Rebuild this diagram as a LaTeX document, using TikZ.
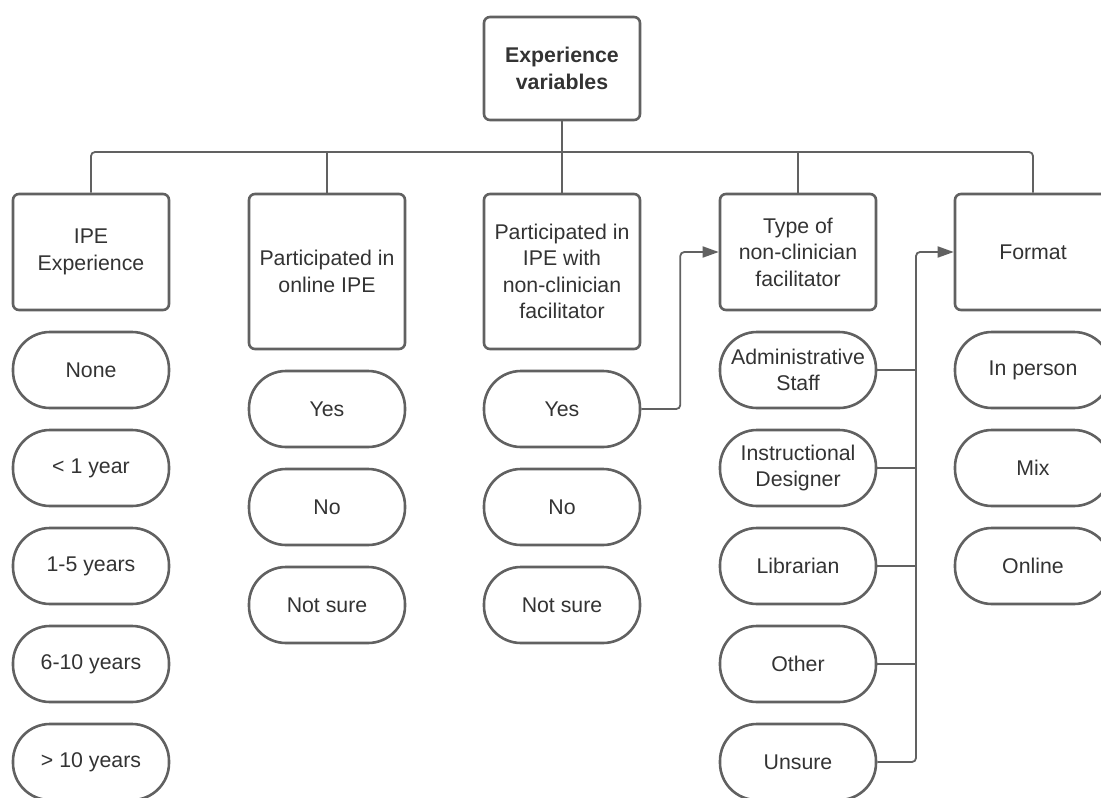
\documentclass[tikz,border=0pt]{standalone}
\usepackage{fontspec}
\setmainfont{Liberation Sans}
\usetikzlibrary{arrows.meta}
\definecolor{edge}{HTML}{616161}
\definecolor{txt}{HTML}{333333}
\begin{document}
\begin{tikzpicture}[x=1pt,y=-1pt,
  base/.style={draw=edge,line width=2.6pt,text=txt,align=center,
    font=\fontsize{21.3}{26.5}\selectfont,minimum width=156,inner sep=0pt},
  hbox/.style={base,rectangle,rounded corners=6},
  pill/.style={base,rectangle,rounded corners=37,minimum height=76},
  conn/.style={draw=edge,line width=1.8pt,rounded corners=4},
  arr/.style={conn,-{Triangle[length=16pt,width=11pt]}}]
\useasboundingbox (0,0) rectangle (1101,798);
\clip (0,0) rectangle (1101,798);
% top
\node[hbox,minimum height=103,font=\fontsize{21.3}{26.5}\selectfont\bfseries] (top) at (562,68.5) {Experience\\variables};
% headers
\node[hbox,minimum height=116] (h1) at (91,252) {IPE\\Experience};
\node[hbox,minimum height=155] (h2) at (327,271.5) {Participated in\\online IPE};
\node[hbox,minimum height=155] (h3) at (562,271.5) {Participated in\\IPE with\\non-clinician\\facilitator};
\node[hbox,minimum height=116] (h4) at (798,252) {Type of\\non-clinician\\facilitator};
\node[hbox,minimum height=116] (h5) at (1033,252) {Format};
% column 1
\node[pill] (c1a) at (91,370) {None};
\node[pill] (c1b) at (91,468) {< 1 year};
\node[pill] (c1c) at (91,566) {1-5 years};
\node[pill] (c1d) at (91,664) {6-10 years};
\node[pill] (c1e) at (91,762) {> 10 years};
% column 2
\node[pill] (c2a) at (327,409) {Yes};
\node[pill] (c2b) at (327,507) {No};
\node[pill] (c2c) at (327,605) {Not sure};
% column 3
\node[pill] (c3a) at (562,409) {Yes};
\node[pill] (c3b) at (562,507) {No};
\node[pill] (c3c) at (562,605) {Not sure};
% column 4
\node[pill] (c4a) at (798,370) {Administrative\\Staff};
\node[pill] (c4b) at (798,468) {Instructional\\Designer};
\node[pill] (c4c) at (798,566) {Librarian};
\node[pill] (c4d) at (798,664) {Other};
\node[pill] (c4e) at (798,762) {Unsure};
% column 5
\node[pill] (c5a) at (1033,370) {In person};
\node[pill] (c5b) at (1033,468) {Mix};
\node[pill] (c5c) at (1033,566) {Online};
% tree connectors
\coordinate (bus) at (562,152);
\draw[conn] (h1.north) |- (bus) -| (h5.north);
\draw[conn] (top.south) -- (h3.north);
\draw[conn] (h2.north) -- (h2.north |- bus);
\draw[conn] (h4.north) -- (h4.north |- bus);
% arrows
\draw[arr] (c3a.east) -- ++(39,0) |- (h4.west);
\coordinate (vx) at (916,0);
\draw[arr] (c4e.east) -| (vx |- h5.west) -- (h5.west);
\draw[conn] (c4a.east) -- (c4a.east -| vx);
\draw[conn] (c4b.east) -- (c4b.east -| vx);
\draw[conn] (c4c.east) -- (c4c.east -| vx);
\draw[conn] (c4d.east) -- (c4d.east -| vx);
\end{tikzpicture}
\end{document}
